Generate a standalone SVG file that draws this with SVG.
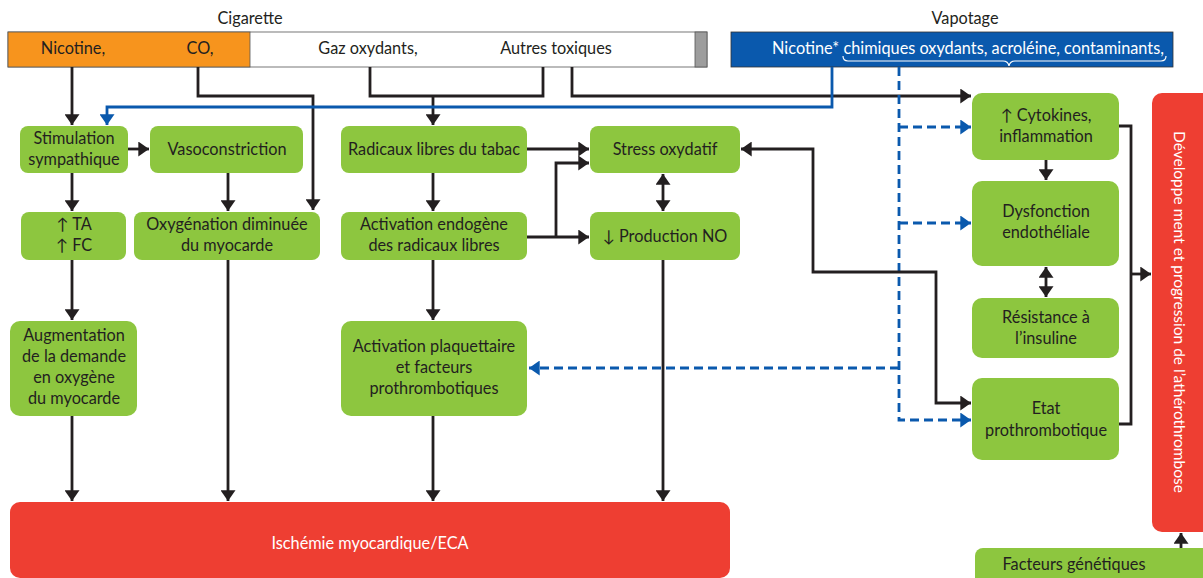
<svg xmlns="http://www.w3.org/2000/svg" width="1203" height="578" viewBox="0 0 1203 578">
<style>
text{font-family:Lato,"Open Sans","Liberation Sans",sans-serif;font-size:16.3px;fill:#231f20;text-anchor:middle}
.g{fill:#8dc63f}
.k{fill:none;stroke:#231f20;stroke-width:2.8}
.b{fill:none;stroke:#0a59ad;stroke-width:2.8}
.d{fill:none;stroke:#0a59ad;stroke-width:2.8;stroke-dasharray:9 5}
</style>
<defs>
<marker id="ak" viewBox="0 0 10 14" refX="10" refY="7" markerWidth="11" markerHeight="15" markerUnits="userSpaceOnUse" orient="auto-start-reverse"><path d="M0,0L10,7L0,14z" fill="#231f20"/></marker>
<marker id="ab" viewBox="0 0 10 14" refX="10" refY="7" markerWidth="11" markerHeight="15" markerUnits="userSpaceOnUse" orient="auto-start-reverse"><path d="M0,0L10,7L0,14z" fill="#0a59ad"/></marker>
</defs>
<rect width="1203" height="578" fill="#fff"/>
<g id="cigarette">
<text x="250" y="24">Cigarette</text>
<rect x="8" y="32" width="699" height="35" fill="#fff" stroke="#555" stroke-width="0.8"/>
<rect x="8" y="32" width="242" height="35" fill="#f7941d" stroke="#555" stroke-width="0.8"/>
<rect x="695" y="32" width="12" height="35" fill="#9d9d9d" stroke="#555" stroke-width="0.8"/>
<text x="73" y="54">Nicotine,</text>
<text x="200" y="54">CO,</text>
<text x="368" y="54">Gaz oxydants,</text>
<text x="556" y="54">Autres toxiques</text>
</g>
<g id="vapotage">
<text x="965" y="24">Vapotage</text>
<rect x="731" y="32" width="442" height="35" fill="#0a59ad" stroke="#333" stroke-width="0.8"/>
<text x="968" y="54" style="fill:#fff">Nicotine* chimiques oxydants, acroléine, contaminants,</text>
<path d="M843,56 Q843,61 848,61 L1003,61 Q1008,61 1009,66 Q1010,61 1015,61 L1161,61 Q1166,61 1166,56" fill="none" stroke="#fff" stroke-width="1.2"/>
</g>
<g id="connectors">
<path class="k" d="M72,67V125" marker-end="url(#ak)"/>
<path class="k" d="M198,67V96H313V210" marker-end="url(#ak)"/>
<path class="k" d="M370,67V96H543V67"/>
<path class="k" d="M433,96V125" marker-end="url(#ak)"/>
<path class="k" d="M572,67V96H971" marker-end="url(#ak)"/>
<path class="b" d="M832,67V107H107V125" marker-end="url(#ab)"/>
<path class="d" d="M899,67V420H971" marker-end="url(#ab)"/>
<path class="d" d="M899,127H971" marker-end="url(#ab)"/>
<path class="d" d="M899,223H971" marker-end="url(#ab)"/>
<path class="d" d="M899,368H529" marker-end="url(#ab)"/>
<path class="k" d="M128,149H149" marker-end="url(#ak)"/>
<path class="k" d="M72,173V211" marker-end="url(#ak)"/>
<path class="k" d="M72,260V320" marker-end="url(#ak)"/>
<path class="k" d="M72,416V501" marker-end="url(#ak)"/>
<path class="k" d="M228,173V211" marker-end="url(#ak)"/>
<path class="k" d="M228,260V501" marker-end="url(#ak)"/>
<path class="k" d="M433,173V211" marker-end="url(#ak)"/>
<path class="k" d="M433,260V320" marker-end="url(#ak)"/>
<path class="k" d="M433,416V501" marker-end="url(#ak)"/>
<path class="k" d="M663,260V501" marker-end="url(#ak)"/>
<path class="k" d="M527,149H589" marker-end="url(#ak)"/>
<path class="k" d="M527,237H589" marker-end="url(#ak)"/>
<path class="k" d="M556,237V163H589" marker-end="url(#ak)"/>
<path class="k" d="M663,174V211" marker-start="url(#ak)" marker-end="url(#ak)"/>
<path class="k" d="M741,149H813V272H936V403H971" marker-start="url(#ak)" marker-end="url(#ak)"/>
<path class="k" d="M1046,160V180" marker-end="url(#ak)"/>
<path class="k" d="M1046,267V297" marker-start="url(#ak)" marker-end="url(#ak)"/>
<path class="k" d="M1119,126H1131V424H1119"/>
<path class="k" d="M1131,274H1151" marker-end="url(#ak)"/>
<path class="k" d="M1181,548V533" marker-end="url(#ak)"/>
</g>
<g id="stimulation"><rect class="g" x="20" y="126" width="108" height="47" rx="8"/><text x="74" y="144">Stimulation</text><text x="74" y="165">sympathique</text></g>
<g id="vasoconstriction"><rect class="g" x="150" y="126" width="153" height="47" rx="8"/><text x="227" y="155">Vasoconstriction</text></g>
<g id="ta-fc"><rect class="g" x="21" y="212" width="105" height="48" rx="8"/><text x="74" y="230">↑ TA</text><text x="74" y="251">↑ FC</text></g>
<g id="oxygenation"><rect class="g" x="134" y="212" width="186" height="48" rx="8"/><text x="227" y="230">Oxygénation diminuée</text><text x="227" y="251">du myocarde</text></g>
<g id="augmentation"><rect class="g" x="10" y="321" width="127" height="95" rx="10"/><text x="74" y="341">Augmentation</text><text x="74" y="362">de la demande</text><text x="74" y="383">en oxygène</text><text x="74" y="404">du myocarde</text></g>
<g id="radicaux"><rect class="g" x="341" y="126" width="186" height="47" rx="8"/><text x="434" y="155">Radicaux libres du tabac</text></g>
<g id="activation-endogene"><rect class="g" x="341" y="212" width="186" height="48" rx="8"/><text x="434" y="230">Activation endogène</text><text x="434" y="251">des radicaux libres</text></g>
<g id="activation-plaquettaire"><rect class="g" x="341" y="321" width="186" height="95" rx="10"/><text x="434" y="352">Activation plaquettaire</text><text x="434" y="373">et facteurs</text><text x="434" y="394">prothrombotiques</text></g>
<g id="stress"><rect class="g" x="590" y="126" width="150" height="47" rx="8"/><text x="665" y="155">Stress oxydatif</text></g>
<g id="production-no"><rect class="g" x="590" y="212" width="150" height="48" rx="8"/><text x="665" y="242">↓ Production NO</text></g>
<g id="cytokines"><rect class="g" x="972" y="93" width="147" height="67" rx="10"/><text x="1046" y="121">↑ Cytokines,</text><text x="1046" y="142">inflammation</text></g>
<g id="dysfonction"><rect class="g" x="972" y="181" width="147" height="85" rx="10"/><text x="1046" y="217">Dysfonction</text><text x="1046" y="238">endothéliale</text></g>
<g id="resistance"><rect class="g" x="972" y="298" width="147" height="60" rx="10"/><text x="1046" y="323">Résistance à</text><text x="1046" y="344">l’insuline</text></g>
<g id="etat"><rect class="g" x="972" y="378" width="147" height="82" rx="10"/><text x="1046" y="414">Etat</text><text x="1046" y="436">prothrombotique</text></g>
<g id="atherothrombose"><rect x="1152" y="93" width="60" height="439" rx="10" fill="#ee3e32"/><text x="0" y="0" transform="translate(1174,312) rotate(90)" style="fill:#fff;font-size:15.5px">Développe ment et progression de l’athérothrombose</text></g>
<g id="genetiques"><rect class="g" x="975" y="548" width="240" height="40" rx="8"/><text x="1074" y="570">Facteurs génétiques</text></g>
<g id="ischemie"><rect x="10" y="502" width="720" height="76" rx="10" fill="#ee3e32"/><text x="370" y="549" style="fill:#fff">Ischémie myocardique/ECA</text></g>
</svg>
